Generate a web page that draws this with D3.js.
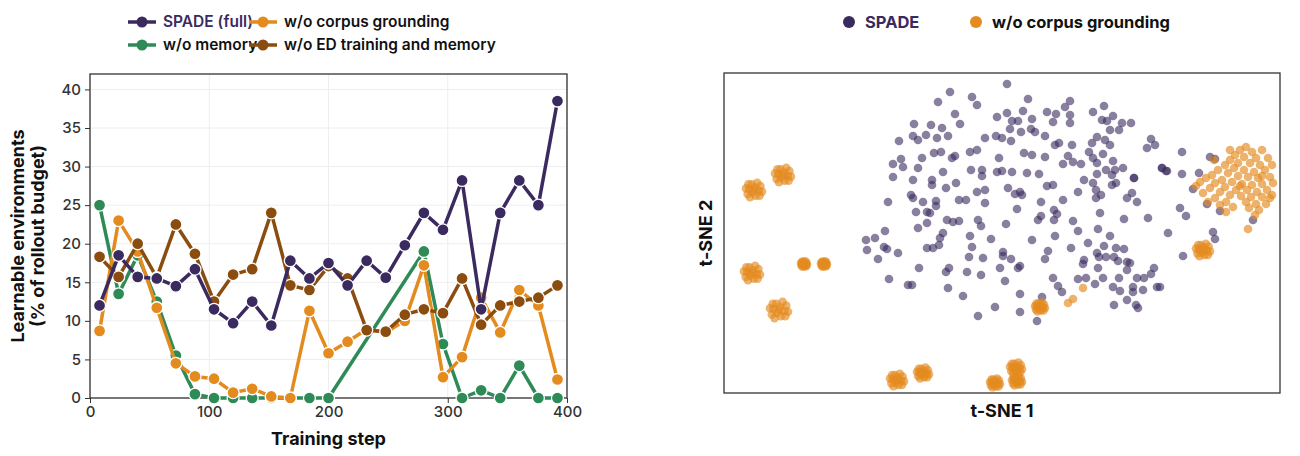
<!DOCTYPE html>
<html>
<head>
<meta charset="utf-8">
<script src="https://cdn.jsdelivr.net/npm/d3@7"></script>
<style>
  body { margin: 0; background: #fff; }
  text { font-family: Inter, "Noto Sans", sans-serif; }
</style>
</head>
<body>
<svg id="chart" width="1300" height="456"></svg>
<script>
// ---- left panel: learnable environments per training step ----
var steps = [8,24,40,56,72,88,104,120,136,152,168,184,200,216,232,248,264,280,296,312,328,344,360,376,392];
var spadeFull = [12,18.5,15.7,15.5,14.5,16.7,11.5,9.7,12.5,9.4,17.8,15.5,17.5,14.6,17.8,15.6,19.8,24,21.8,28.2,11.5,24,28.2,25,38.5];
var noCorpus = [8.7,23,19,11.7,4.5,2.8,2.5,0.7,1.2,0.2,0,11.3,5.8,7.3,8.9,8.5,10,17.2,2.7,5.3,13,8.5,14,12,2.4];
var noEdMemory = [18.3,15.7,20,15.6,22.5,18.7,12.5,16,16.7,24,14.6,14,17.1,15.5,8.8,8.6,10.8,11.5,11,15.5,9.5,12,12.5,13,14.6];
// w/o memory has no points between 104 and 200 except zeros, and none between 200 and 280
var memSteps = [8,24,40,56,72,88,104,120,136,152,168,184,200,280,296,312,328,344,360,376,392];
var noMemory = [25,13.5,18.5,12.5,5.5,0.5,0,0,0,0,0,0,0,19,7,0,1,0,4.2,0,0];
var yTicks = [0,5,10,15,20,25,30,35,40];
var xTicks = [0,100,200,300,400];

// ---- right panel: t-SNE embedding (arbitrary units) ----
var spadeEmb = [[1007,84],[950,92],[972,97],[938,102],[977,105],[1028,99],[1070,101],[1065,107],[955,114],[914,124],[931,125],[942,128],[960,124],[997,117],[1007,113],[1012,121],[1018,121],[1023,111],[1032,119],[1047,112],[1056,114],[1053,122],[1070,115],[1070,123],[1093,112],[1104,106],[1102,120],[1113,116],[1107,121],[1122,123],[1131,123],[1110,130],[1119,130],[899,141],[913,136],[918,140],[926,135],[937,138],[948,136],[985,138],[996,136],[1002,138],[1011,141],[1010,129],[1021,132],[1031,129],[1035,132],[1045,136],[1097,137],[1105,140],[1110,145],[1092,143],[1151,139],[1155,145],[1147,148],[934,153],[941,152],[955,156],[952,158],[970,152],[977,150],[901,159],[893,164],[903,167],[922,158],[918,168],[943,172],[971,170],[982,170],[982,176],[999,158],[997,172],[1002,171],[1012,172],[1027,173],[1039,174],[1024,153],[1032,155],[1045,157],[1055,145],[1059,143],[1072,145],[1068,156],[1073,162],[1063,164],[1081,164],[1089,152],[1093,158],[1097,163],[1103,154],[1106,170],[1113,161],[1115,170],[1123,168],[1112,175],[1097,174],[1162,168],[1167,171],[893,177],[913,180],[932,180],[932,185],[946,188],[956,183],[1047,186],[1053,185],[1084,180],[1093,183],[1112,185],[1116,183],[1134,178],[1096,190],[888,202],[911,195],[913,198],[923,202],[936,201],[936,206],[959,200],[966,200],[977,192],[985,190],[985,203],[1008,188],[1015,194],[1020,192],[1022,195],[1041,202],[1063,200],[1078,192],[1096,198],[1101,195],[1127,198],[1132,193],[1137,202],[916,212],[927,212],[930,213],[947,220],[953,222],[959,221],[978,220],[981,226],[1006,224],[1017,209],[1038,220],[1041,216],[1054,210],[1057,214],[1054,220],[1073,221],[1100,213],[1124,219],[1148,218],[918,228],[927,223],[885,231],[875,238],[866,240],[867,250],[878,259],[884,247],[887,249],[898,253],[940,238],[943,233],[939,245],[927,248],[933,248],[970,236],[972,247],[991,239],[1032,240],[1055,236],[1078,231],[1098,229],[1110,236],[1088,243],[1104,246],[1116,248],[1124,249],[1168,233],[1071,248],[1097,253],[1099,257],[1106,257],[1048,251],[1045,259],[1084,260],[1083,264],[1114,257],[1127,262],[1118,261],[1130,263],[1127,270],[1098,268],[1154,268],[1151,274],[1003,252],[1003,256],[1011,259],[1020,266],[1018,268],[969,257],[983,258],[919,268],[946,272],[949,268],[967,272],[981,275],[1000,268],[889,279],[908,285],[912,285],[948,288],[963,296],[1005,281],[1020,294],[1053,278],[1058,286],[1062,292],[1078,279],[1086,278],[1095,284],[1103,278],[1113,287],[1120,291],[1119,278],[1133,287],[1137,278],[1144,278],[1143,290],[1160,287],[1157,287],[1133,292],[1127,300],[1114,305],[1136,305],[1138,308],[1042,297],[995,307],[1020,312],[978,316],[1037,321],[1182,152],[1210,157],[1215,159],[1162,168],[1166,171],[1182,174],[1199,173],[1193,189],[1207,204],[1220,211],[1180,208],[1186,216],[1213,232],[1215,239],[1253,220],[1183,256],[1134,178]];
var corpusCloud = [[1240,150],[1246,147],[1252,152],[1235,155],[1244,157],[1256,158],[1262,150],[1230,160],[1238,163],[1250,163],[1260,165],[1268,158],[1225,165],[1234,168],[1244,170],[1254,172],[1265,170],[1272,165],[1218,170],[1228,173],[1238,176],[1248,177],[1258,178],[1270,177],[1212,175],[1222,180],[1232,182],[1242,184],[1252,185],[1262,184],[1273,183],[1206,178],[1215,183],[1225,187],[1236,190],[1247,190],[1257,192],[1267,190],[1200,182],[1210,188],[1220,192],[1230,195],[1241,196],[1251,197],[1262,197],[1272,195],[1203,193],[1215,198],[1226,202],[1246,202],[1256,204],[1266,204],[1220,205],[1233,207],[1249,208],[1259,210],[1208,202],[1226,212],[1255,215],[1240,186],[1230,150],[1262,176],[1214,160],[1270,198],[1196,186],[1248,229],[1083,288],[1073,299],[1068,303]];
// tight orange clumps: centre x, centre y, spread
var clumpCenters = [[754,190,8],[783,175,8],[752,273,8],[804,264,3],[824,264,3],[779,310,9],[897,380,7],[923,373,6],[995,383,5],[1016,368,6],[1017,381,5],[1040,307,5],[1203,250,7]];
var clumpShape = [[0,0],[0.6,0.1],[-0.6,-0.1],[0.2,0.7],[-0.3,-0.7],[0.8,-0.5],[-0.8,0.5],[0.4,-0.9],[-0.5,0.9],[1,0.2],[-1,-0.2],[0.1,-0.3],[-0.2,0.3],[0.7,0.7],[-0.7,-0.7]];

var colors = { spade: '#3b2a5f', corpus: '#e38b1f', memory: '#2e8b57', ed: '#8a4d0f' };

var svg = d3.select('#chart');

// ===== left panel =====
var L = { left: 90, right: 567, top: 74, bottom: 398 };
var x = d3.scaleLinear().domain([0, 400]).range([L.left, L.right]);
var y = d3.scaleLinear().domain([0, 42]).range([L.bottom, L.top]);

var left = svg.append('g');
left.selectAll('.gx').data(xTicks).enter().append('line')
    .attr('x1', x).attr('x2', x).attr('y1', L.top).attr('y2', L.bottom)
    .attr('stroke', '#eeeeee');
left.selectAll('.gy').data(yTicks).enter().append('line')
    .attr('x1', L.left).attr('x2', L.right).attr('y1', y).attr('y2', y)
    .attr('stroke', '#eeeeee');

var xAxis = left.append('g').attr('transform', 'translate(0,' + L.bottom + ')')
    .call(d3.axisBottom(x).tickValues(xTicks).tickSize(5).tickPadding(3));
var yAxis = left.append('g').attr('transform', 'translate(' + L.left + ',0)')
    .call(d3.axisLeft(y).tickValues(yTicks).tickSize(5).tickPadding(4));
[xAxis, yAxis].forEach(function(a) {
  a.select('.domain').remove();
  a.selectAll('line').attr('stroke', '#333');
  a.selectAll('text').attr('font-size', 15).attr('font-weight', 500).attr('fill', '#333')
   .style('font-family', 'Inter, sans-serif');
});
left.append('rect').attr('x', L.left).attr('y', L.top)
    .attr('width', L.right - L.left).attr('height', L.bottom - L.top)
    .attr('fill', 'none').attr('stroke', '#333').attr('stroke-width', 1.3);

var series = [
  { xs: memSteps, ys: noMemory, color: colors.memory },
  { xs: steps, ys: noCorpus, color: colors.corpus },
  { xs: steps, ys: noEdMemory, color: colors.ed },
  { xs: steps, ys: spadeFull, color: colors.spade }
];
var line = d3.line().x(function(d) { return x(d[0]); }).y(function(d) { return y(d[1]); });
series.forEach(function(s) {
  var pts = d3.zip(s.xs, s.ys);
  left.append('path').datum(pts).attr('d', line)
      .attr('fill', 'none').attr('stroke', s.color).attr('stroke-width', 3.5)
      .attr('stroke-linejoin', 'round');
  left.selectAll(null).data(pts).enter().append('circle')
      .attr('cx', function(d) { return x(d[0]); }).attr('cy', function(d) { return y(d[1]); })
      .attr('r', 6).attr('fill', s.color).attr('stroke', '#fff').attr('stroke-width', 1.3);
});

left.append('text').attr('x', (L.left + L.right) / 2).attr('y', 445).attr('text-anchor', 'middle')
    .attr('font-size', 18).attr('font-weight', 700).attr('fill', '#111').text('Training step');
var yl = left.append('text').attr('transform', 'translate(24,236) rotate(-90)')
    .attr('text-anchor', 'middle').attr('font-size', 18).attr('font-weight', 700).attr('fill', '#111');
yl.append('tspan').attr('x', 0).attr('dy', 0).text('Learnable environments');
yl.append('tspan').attr('x', 0).attr('dy', 20).text('(% of rollout budget)');

var legItems = [
  { label: 'SPADE (full)', color: colors.spade, tc: colors.spade, x: 128, y: 22 },
  { label: 'w/o corpus grounding', color: colors.corpus, tc: '#111', x: 249, y: 22 },
  { label: 'w/o memory', color: colors.memory, tc: '#111', x: 128, y: 45 },
  { label: 'w/o ED training and memory', color: colors.ed, tc: '#111', x: 249, y: 45 }
];
legItems.forEach(function(d) {
  var g = svg.append('g').attr('transform', 'translate(' + d.x + ',' + d.y + ')');
  g.append('line').attr('x1', 0).attr('x2', 28).attr('stroke', d.color).attr('stroke-width', 3.5);
  g.append('circle').attr('cx', 14).attr('r', 5.5).attr('fill', d.color);
  g.append('text').attr('x', 35).attr('dy', '0.35em').attr('font-size', 15.5).attr('font-weight', 600)
   .attr('fill', d.tc).text(d.label);
});

// ===== right panel =====
var R = { left: 724, right: 1280, top: 73, bottom: 393 };
var sx = d3.scaleLinear().domain([724, 1280]).range([R.left, R.right]);
var sy = d3.scaleLinear().domain([73, 393]).range([R.top, R.bottom]);

var right = svg.append('g');
right.append('rect').attr('x', R.left).attr('y', R.top)
    .attr('width', R.right - R.left).attr('height', R.bottom - R.top)
    .attr('fill', 'none').attr('stroke', '#333').attr('stroke-width', 1.3);

right.selectAll('.sp').data(spadeEmb).enter().append('circle')
    .attr('cx', function(d) { return sx(d[0]); }).attr('cy', function(d) { return sy(d[1]); })
    .attr('r', 4.3).attr('fill', colors.spade).attr('fill-opacity', 0.6);

var corpusPts = corpusCloud.slice();
clumpCenters.forEach(function(c) {
  clumpShape.forEach(function(o) { corpusPts.push([c[0] + o[0] * c[2], c[1] + o[1] * c[2]]); });
});
right.selectAll('.cp').data(corpusPts).enter().append('circle')
    .attr('cx', function(d) { return sx(d[0]); }).attr('cy', function(d) { return sy(d[1]); })
    .attr('r', 4.3).attr('fill', colors.corpus).attr('fill-opacity', 0.65);

right.append('text').attr('x', (R.left + R.right) / 2).attr('y', 417).attr('text-anchor', 'middle')
    .attr('font-size', 18).attr('font-weight', 700).attr('fill', '#111').text('t-SNE 1');
right.append('text').attr('transform', 'translate(712,' + (R.top + R.bottom) / 2 + ') rotate(-90)')
    .attr('text-anchor', 'middle').attr('font-size', 18).attr('font-weight', 700).attr('fill', '#111').text('t-SNE 2');

[{ label: 'SPADE', color: colors.spade, tc: colors.spade, x: 849 },
 { label: 'w/o corpus grounding', color: colors.corpus, tc: '#111', x: 976 }].forEach(function(d) {
  var g = svg.append('g').attr('transform', 'translate(' + d.x + ',22)');
  g.append('circle').attr('r', 6).attr('fill', d.color);
  g.append('text').attr('x', 16).attr('dy', '0.35em').attr('font-size', 16.5).attr('font-weight', 700)
   .attr('fill', d.tc).text(d.label);
});
</script>
</body>
</html>
